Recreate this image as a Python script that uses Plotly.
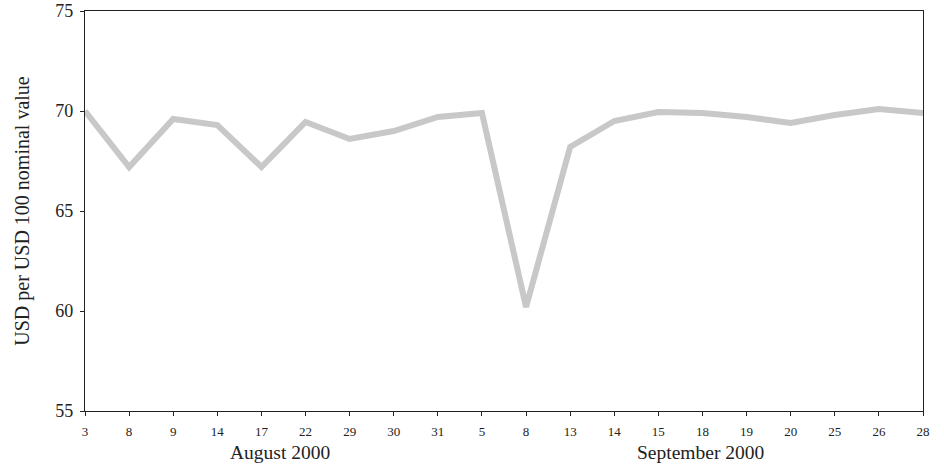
import plotly.graph_objects as go

day_labels = ["3", "8", "9", "14", "17", "22", "29", "30", "31",
              "5", "8", "13", "14", "15", "18", "19", "20", "25", "26", "28"]
prices = [70.0, 67.2, 69.6, 69.3, 67.2, 69.45, 68.6, 69.0, 69.7,
          69.9, 60.2, 68.2, 69.5, 69.95, 69.9, 69.7, 69.4, 69.8, 70.1, 69.9]
month_labels = ["August 2000", "September 2000"]
month_centers = [4.43, 13.96]
y_ticks = [55, 60, 65, 70, 75]

positions = list(range(len(day_labels)))
FONT = "Liberation Serif"
INK = "#222222"

fig = go.Figure()
fig.add_trace(go.Scatter(
    x=positions, y=prices, mode="lines",
    line=dict(color="#c8c8c8", width=6),
    hoverinfo="skip", showlegend=False,
))

for lbl, cx in zip(month_labels, month_centers):
    fig.add_annotation(x=cx, y=0, xref="x", yref="paper", text=lbl,
                       showarrow=False, yanchor="middle", yshift=-41.5,
                       font=dict(family=FONT, size=19.5, color=INK))

fig.update_layout(
    width=944, height=467,
    margin=dict(l=84.5, r=21, t=10.5, b=55.5),
    paper_bgcolor="white", plot_bgcolor="white",
    font=dict(family=FONT, color=INK),
)
fig.update_xaxes(
    range=[0, len(day_labels) - 1],
    tickmode="array", tickvals=positions, ticktext=day_labels,
    ticks="outside", ticklen=4, tickcolor=INK, tickwidth=1,
    ticklabelstandoff=4,
    tickfont=dict(size=13, family=FONT, color=INK),
    showline=True, linecolor=INK, linewidth=1.3, mirror=True,
    showgrid=False, zeroline=False, automargin=False,
)
fig.update_yaxes(
    range=[55, 75], tickvals=y_ticks,
    ticks="outside", ticklen=4, tickcolor=INK, tickwidth=1,
    ticklabelstandoff=3,
    tickfont=dict(size=18, family=FONT, color=INK),
    title=dict(text="USD per USD 100 nominal value", standoff=20,
               font=dict(size=20, family=FONT, color=INK)),
    showline=True, linecolor=INK, linewidth=1.3, mirror=True,
    showgrid=False, zeroline=False, automargin=False,
)

fig.write_html("out.html",
               config={"displayModeBar": False},
               post_script="document.body.style.margin='0';document.body.style.overflow='hidden';")
